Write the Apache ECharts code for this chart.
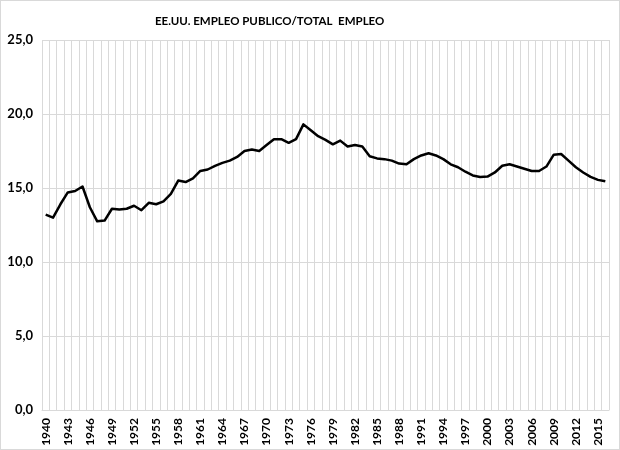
<!DOCTYPE html>
<html>
<head>
<meta charset="utf-8">
<script src="https://cdn.jsdelivr.net/npm/echarts@6/dist/echarts.min.js"></script>
<style>
html,body{margin:0;padding:0;background:#fff;}
#frame{position:absolute;left:0;top:0;width:620px;height:450px;box-sizing:border-box;border:1px solid #d9d9d9;}
#chart{position:absolute;left:0;top:0;width:620px;height:450px;}
</style>
</head>
<body>
<div id="frame"></div>
<div id="chart"></div>
<script>
const titleText = 'EE.UU. EMPLEO PUBLICO/TOTAL  EMPLEO';
const years = [];
for (let y = 1940; y <= 2016; y++) years.push(String(y));
const values = [
  13.2, 13.0, 13.9, 14.7, 14.8, 15.1, 13.7, 12.75, 12.8, 13.6,
  13.55, 13.6, 13.8, 13.5, 14.0, 13.9, 14.1, 14.6, 15.5, 15.4,
  15.65, 16.15, 16.25, 16.5, 16.7, 16.85, 17.1, 17.5, 17.6, 17.5,
  17.9, 18.3, 18.3, 18.05, 18.3, 19.3, 18.9, 18.5, 18.25, 17.95,
  18.2, 17.8, 17.9, 17.8, 17.15, 17.0, 16.95, 16.85, 16.65, 16.6,
  16.95, 17.2, 17.35, 17.2, 16.95, 16.6, 16.4, 16.1, 15.85, 15.75,
  15.77, 16.05, 16.5, 16.6, 16.45, 16.3, 16.15, 16.15, 16.45, 17.25,
  17.3, 16.85, 16.4, 16.05, 15.75, 15.55, 15.45
];
const yTicks = [0, 5, 10, 15, 20, 25];

const chart = echarts.init(document.getElementById('chart'), null, {renderer: 'canvas'});
chart.setOption({
  animation: false,
  backgroundColor: 'transparent',
  title: {
    text: titleText,
    left: 150,
    top: 10,
    textStyle: {fontFamily: 'Lato', fontWeight: 'bold', fontSize: 11.5, color: '#000'}
  },
  grid: {left: 42, right: 11, top: 40, bottom: 40, containLabel: false},
  xAxis: {
    type: 'category',
    data: years,
    boundaryGap: true,
    axisLine: {show: true, lineStyle: {color: '#d9d9d9', width: 1}},
    axisTick: {show: false},
    splitLine: {show: true, interval: 0, lineStyle: {color: '#d9d9d9', width: 1}},
    axisLabel: {
      interval: 2,
      rotate: 90,
      margin: 8,
      fontFamily: 'Lato',
      fontWeight: 'bold',
      fontSize: 12,
      color: '#000'
    }
  },
  yAxis: {
    type: 'value',
    min: yTicks[0],
    max: yTicks[yTicks.length - 1],
    interval: 5,
    axisLine: {show: false},
    axisTick: {show: false},
    splitLine: {show: true, lineStyle: {color: '#d9d9d9', width: 1}},
    axisLabel: {
      margin: 9,
      fontFamily: 'Lato',
      fontWeight: 'bold',
      fontSize: 13,
      color: '#000',
      formatter: v => v.toFixed(1).replace('.', ',')
    }
  },
  series: [{
    type: 'line',
    data: values,
    showSymbol: false,
    symbol: 'none',
    smooth: false,
    lineStyle: {color: '#000', width: 2.5, join: 'round'}
  }]
});
</script>
</body>
</html>
